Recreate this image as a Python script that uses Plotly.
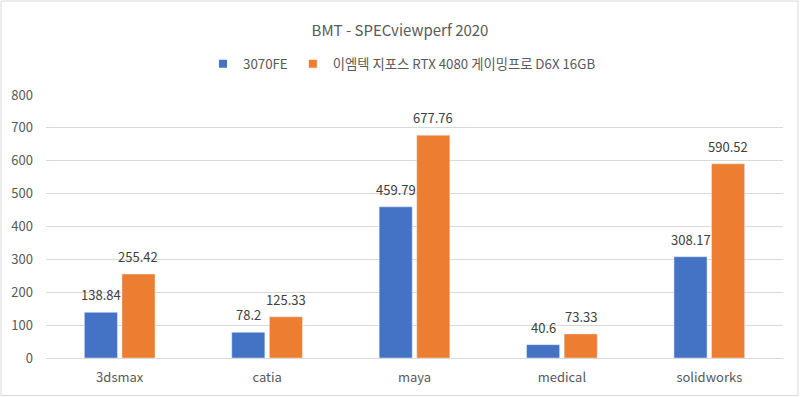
import plotly.graph_objects as go

categories = ["3dsmax", "catia", "maya", "medical", "solidworks"]
series_a_name = "3070FE"
series_a = [138.84, 78.2, 459.79, 40.6, 308.17]
series_b_name = "이엠텍 지포스 RTX 4080 게이밍프로 D6X 16GB"
series_b = [255.42, 125.33, 677.76, 73.33, 590.52]
y_ticks = [0, 100, 200, 300, 400, 500, 600, 700, 800]

COLOR_A = "#4472C4"
COLOR_B = "#ED7D31"
FONT = "Noto Sans CJK KR, Malgun Gothic, sans-serif"
W, H = 800, 397
ML, MR, MT, MB = 46, 17, 95, 39
PW, PH = W - ML - MR, H - MT - MB
BARGAP = 0.49
GROUPGAP = 0.12

fig = go.Figure()
fig.add_trace(go.Bar(x=categories, y=series_a, name=series_a_name,
                     marker_color=COLOR_A, showlegend=False))
fig.add_trace(go.Bar(x=categories, y=series_b, name=series_b_name,
                     marker_color=COLOR_B, showlegend=False))
# legend entries with small square markers
for name, col in [(series_a_name, COLOR_A), (series_b_name, COLOR_B)]:
    fig.add_trace(go.Scatter(x=[None], y=[None], mode="markers", name=name,
                             marker=dict(symbol="square", size=8, color=col)))

# value labels above bars
slot_px = PW / len(categories) * (1 - BARGAP) / 2
annotations = []
for vals, shift in [(series_a, -slot_px / 2), (series_b, slot_px / 2)]:
    for c, v in zip(categories, vals):
        annotations.append(dict(x=c, y=v, xref="x", yref="y", text=f"{v:g}",
                                showarrow=False, xshift=shift, yshift=6,
                                yanchor="bottom",
                                font=dict(size=13, color="#404040", family=FONT)))

def px_to_paper_x(px):
    return (px - ML) / PW

def py_to_paper_y(py):
    return (H - MB - py) / PH

fig.update_layout(
    width=W, height=H,
    margin=dict(l=ML, r=MR, t=MT, b=MB, autoexpand=False),
    paper_bgcolor="white", plot_bgcolor="white",
    font=dict(family=FONT, color="#595959", size=13),
    title=dict(text="BMT - SPECviewperf 2020", x=0.5, xanchor="center",
               y=1 - 31 / H, yanchor="middle",
               font=dict(size=15, color="#595959", family=FONT)),
    legend=dict(orientation="h", x=px_to_paper_x(402), xanchor="center",
                y=py_to_paper_y(64), yanchor="middle",
                font=dict(size=13.3, color="#595959"),
                itemwidth=30, traceorder="normal"),
    barmode="group", bargap=BARGAP, bargroupgap=GROUPGAP,
    annotations=annotations,
    shapes=[dict(type="rect", xref="paper", yref="paper",
                 x0=px_to_paper_x(1), x1=px_to_paper_x(798),
                 y0=py_to_paper_y(395.5), y1=py_to_paper_y(1),
                 line=dict(color="#D9D9D9", width=1), layer="below")],
)
fig.update_xaxes(showline=False, ticks="", tickfont=dict(size=13, color="#595959"),
                 showgrid=False, ticklabelstandoff=10)
fig.update_yaxes(range=[0, 800], tickvals=y_ticks, showgrid=True,
                 gridcolor="#D9D9D9", gridwidth=1, zeroline=True,
                 zerolinecolor="#D9D9D9", zerolinewidth=1, showline=False,
                 ticks="", tickfont=dict(size=13, color="#595959"),
                 ticklabelstandoff=12)

fig.write_html("out.html", config={"displayModeBar": False},
               post_script="document.body.style.margin='0';document.body.style.overflow='hidden';")
